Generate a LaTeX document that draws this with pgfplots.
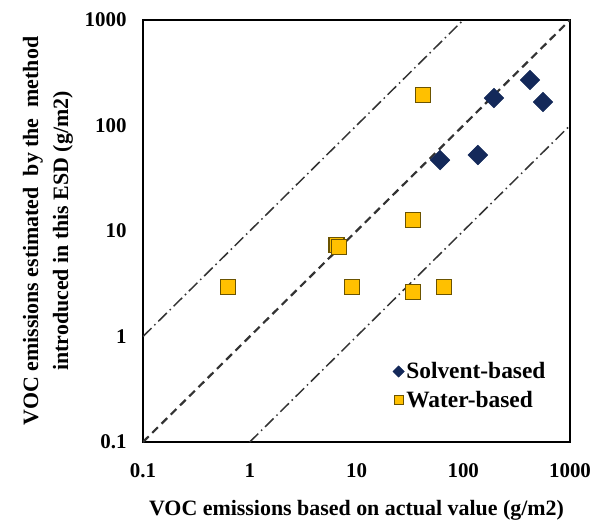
\documentclass[border=0pt]{standalone}
\usepackage{fontspec}
\setmainfont{Liberation Serif}
\usepackage{pgfplots}
\pgfplotsset{compat=1.18}
\definecolor{navy}{HTML}{14295A}
\definecolor{gold}{HTML}{FFC000}
\definecolor{goldedge}{HTML}{6B5300}
\definecolor{refline}{HTML}{333333}
\begin{document}
\begin{tikzpicture}
\useasboundingbox (-143bp,-86bp) rectangle (451bp,442bp);
\begin{axis}[
  scale only axis, width=427bp, height=422bp,
  xmode=log, ymode=log,
  xmin=0.1, xmax=1000, ymin=0.1, ymax=1000,
  xtick={0.1,1,10,100,1000}, ytick={0.1,1,10,100,1000},
  xticklabels={0.1,1,10,100,1000}, yticklabels={0.1,1,10,100,1000},
  xminorticks=false, yminorticks=false,
  major tick length=0pt,
  axis line style={line width=2bp},
  tick label style={font=\bfseries\fontsize{21}{21}\selectfont},
  xticklabel style={yshift=-18bp},
  yticklabel style={xshift=-13bp},
  xlabel={VOC emissions based on actual value (g/m2)},
  xlabel style={at={(axis description cs:0.5,0)}, anchor=base, yshift=-73bp, font=\bfseries\fontsize{22}{24}\selectfont},
  ylabel={VOC emissions estimated \ by the \ method\\introduced in this ESD (g/m2)},
  ylabel style={at={(axis description cs:-0.2225,0.5)}, anchor=center, align=center, font=\bfseries\fontsize{22}{30}\selectfont},
  legend style={at={(rel axis cs:0.578,0.198)}, anchor=north west, draw=none, fill=none, font=\bfseries\fontsize{23.5}{25}\selectfont, row sep=7bp},
  legend cell align=left,
  clip=true,
]
\addplot[only marks, mark=square*, mark size=7bp, mark options={rotate=45, fill=navy, draw=navy},
  legend image post style={mark size=4bp}]
  coordinates {(422,270) (558,167) (194,182) (60.6,47) (137,52.5)};
\addlegendentry{Solvent-based}
\addplot[only marks, mark=square*, mark size=7.5bp, mark options={fill=gold, draw=goldedge, line width=1.2bp},
  legend image post style={mark size=4.5bp}]
  coordinates {(0.625,2.94) (6.5,7.4) (6.8,7.1) (9.1,2.94) (33.8,2.64) (66,2.94) (33.8,12.7) (42,195)};
\addlegendentry{Water-based}
\addplot[forget plot, refline, line width=2.2bp, dash pattern=on 8bp off 5bp] coordinates {(0.1,0.1) (1000,1000)};
\addplot[forget plot, refline, line width=1.5bp, dash pattern=on 12bp off 4bp on 1.5bp off 4bp] coordinates {(0.1,1) (100,1000)};
\addplot[forget plot, refline, line width=1.5bp, dash pattern=on 12bp off 4bp on 1.5bp off 4bp] coordinates {(1,0.1) (1000,100)};
\end{axis}
\end{tikzpicture}
\end{document}
